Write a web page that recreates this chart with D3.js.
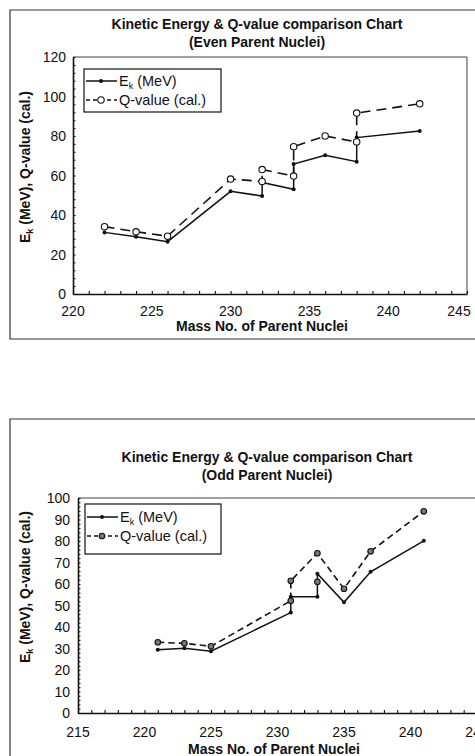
<!DOCTYPE html>
<html><head><meta charset="utf-8">
<script src="https://cdn.jsdelivr.net/npm/d3@7"></script>
<style>
body{margin:0;background:#fff}
svg{display:block}
text{font-family:"Liberation Sans",Arial,sans-serif;fill:#111}
</style>
</head><body>
<svg id="c" width="475" height="756"></svg>
<script>
// Even parent nuclei: mass number, kinetic energy (MeV), calculated Q-value
const evenMass = [222, 224, 226, 230, 232, 232, 234, 234, 236, 238, 238, 242];
const evenEk   = [31.2, 29.0, 26.5, 52.0, 49.6, 56.5, 53.0, 65.8, 70.2, 67.0, 79.2, 82.5];
const evenQ    = [34.1, 31.5, 29.3, 58.2, 57.0, 63.0, 59.7, 74.6, 80.0, 77.0, 91.6, 96.3];

// Odd parent nuclei
const oddMass  = [221, 223, 225, 231, 231, 233, 233, 235, 237, 241];
const oddEk    = [29.4, 30.1, 28.7, 46.7, 54.1, 54.1, 64.8, 51.5, 65.7, 80.1];
const oddQMass = [221, 223, 225, 231, 231, 233, 235, 237, 241];
const oddQ     = [32.9, 32.4, 31.0, 52.2, 61.5, 74.3, 57.8, 75.2, 93.8];
// unconnected Q-value point
const oddQLoneMass = [233];
const oddQLone     = [61.0];

const evenXTicks = [220, 225, 230, 235, 240, 245];
const evenYTicks = [0, 20, 40, 60, 80, 100, 120];
const oddXTicks  = [215, 220, 225, 230, 235, 240, 245];
const oddYTicks  = [0, 10, 20, 30, 40, 50, 60, 70, 80, 90, 100];

const titleLine1 = "Kinetic Energy & Q-value comparison Chart";
const evenTitle2 = "(Even Parent Nuclei)";
const oddTitle2  = "(Odd Parent Nuclei)";
const xTitle = "Mass No. of Parent Nuclei";
const legendEk = ["E", "k", " (MeV)"];
const legendQ = "Q-value (cal.)";

const svg = d3.select("#c");
const ink = "#111";

function zip(xs, ys) { return xs.map((x, i) => ({x, y: ys[i]})); }

function drawChart(o) {
  const g = svg.append("g");
  // outer frame
  g.append("path")
    .attr("d", o.framePath)
    .attr("fill", "none").attr("stroke", "#333").attr("stroke-width", 1.2);

  const x = d3.scaleLinear().domain(o.xDomain).range([o.left, o.right]);
  const y = d3.scaleLinear().domain(o.yDomain).range([o.bottom, o.top]);

  // plot area border (top/right)
  g.append("path")
    .attr("d", `M${o.left},${o.top}H${o.right}V${o.bottom}`)
    .attr("fill", "none").attr("stroke", "#444").attr("stroke-width", 1);

  // x axis: minor ticks pointing inward
  const xa = g.append("g").attr("transform", `translate(0,${o.bottom})`)
    .call(d3.axisBottom(x).tickValues(d3.range(o.xDomain[0], o.xDomain[1] + 1, 1))
      .tickSize(-3).tickSizeOuter(0).tickFormat(""));
  xa.select(".domain").attr("stroke", ink).attr("stroke-width", 1.6);
  xa.selectAll(".tick line").attr("stroke", ink).attr("stroke-width", 1.1);
  g.append("g").selectAll("text").data(o.xTicks).join("text")
    .attr("x", d => Math.min(x(d), o.xLabelMax)).attr("y", o.bottom + o.xLabelOff)
    .attr("text-anchor", "middle").attr("font-size", 14).text(d => d);

  // y axis
  const ya = g.append("g").attr("transform", `translate(${o.left},0)`)
    .call(d3.axisLeft(y).tickValues(d3.range(o.yDomain[0], o.yDomain[1] + 0.001, o.yMinor))
      .tickSize(-2.5).tickSizeOuter(0).tickFormat(""));
  ya.select(".domain").attr("stroke", ink).attr("stroke-width", 1.6);
  ya.selectAll(".tick line").attr("stroke", ink).attr("stroke-width", 1);
  g.append("g").selectAll("text").data(o.yTicks).join("text")
    .attr("x", o.left - o.yLabelGap).attr("y", d => y(d))
    .attr("dy", "0.36em").attr("text-anchor", "end").attr("font-size", 14).text(d => d);

  // titles
  g.append("text").attr("x", o.titleX).attr("y", o.titleY)
    .attr("text-anchor", "middle").attr("font-size", 14).attr("font-weight", "bold").text(titleLine1);
  g.append("text").attr("x", o.titleX).attr("y", o.titleY + 18)
    .attr("text-anchor", "middle").attr("font-size", 14).attr("font-weight", "bold").text(o.title2);
  g.append("text").attr("x", o.xTitleX).attr("y", o.xTitleY)
    .attr("text-anchor", "middle").attr("font-size", 14).attr("font-weight", "bold").text(xTitle);
  const yt = g.append("text")
    .attr("transform", `translate(${o.yTitleX},${o.yTitleY}) rotate(-90)`)
    .attr("text-anchor", "middle").attr("font-size", 14).attr("font-weight", "bold");
  yt.append("tspan").text("E");
  yt.append("tspan").attr("font-size", 9).attr("dy", 3).text("k");
  yt.append("tspan").attr("dy", -3).text(" (MeV), Q-value (cal.)");

  const line = d3.line().x(d => x(d.x)).y(d => y(d.y));
  const ek = zip(o.ekMass, o.ek);
  const q = zip(o.qMass, o.q);

  g.append("path").datum(q).attr("d", line)
    .attr("fill", "none").attr("stroke", ink).attr("stroke-width", 1.6)
    .attr("stroke-dasharray", o.dash);
  g.append("path").datum(ek).attr("d", line)
    .attr("fill", "none").attr("stroke", ink).attr("stroke-width", 1.5);

  g.append("g").selectAll("circle").data(ek).join("circle")
    .attr("cx", d => x(d.x)).attr("cy", d => y(d.y)).attr("r", 2).attr("fill", ink);
  const qAll = q.concat(o.qLone ? zip(o.qLoneMass, o.qLone) : []);
  g.append("g").selectAll("circle").data(qAll).join("circle")
    .attr("cx", d => x(d.x)).attr("cy", d => y(d.y)).attr("r", o.qR)
    .attr("fill", o.qFill).attr("stroke", ink).attr("stroke-width", 1.1);

  // legend
  const L = o.legend;
  g.append("rect").attr("x", L.x).attr("y", L.y).attr("width", L.w).attr("height", L.h)
    .attr("fill", "#fff").attr("stroke", ink).attr("stroke-width", 1.2);
  const sx0 = L.x + 2, sx1 = L.x + 33, mx = L.x + 17;
  g.append("line").attr("x1", sx0).attr("x2", sx1).attr("y1", L.r1).attr("y2", L.r1)
    .attr("stroke", ink).attr("stroke-width", 1.5);
  g.append("circle").attr("cx", mx).attr("cy", L.r1).attr("r", 2).attr("fill", ink);
  g.append("line").attr("x1", sx0).attr("x2", sx1).attr("y1", L.r2).attr("y2", L.r2)
    .attr("stroke", ink).attr("stroke-width", 1.5).attr("stroke-dasharray", "4,3");
  g.append("circle").attr("cx", mx).attr("cy", L.r2).attr("r", o.qR)
    .attr("fill", o.qFill).attr("stroke", ink).attr("stroke-width", 1.1);
  const t1 = g.append("text").attr("x", sx1 + 2).attr("y", L.r1).attr("dy", "0.36em").attr("font-size", 14.5);
  t1.append("tspan").text(legendEk[0]);
  t1.append("tspan").attr("font-size", 9).attr("dy", 3).text(legendEk[1]);
  t1.append("tspan").attr("dy", -3).text(legendEk[2]);
  g.append("text").attr("x", sx1 + 2).attr("y", L.r2).attr("dy", "0.36em").attr("font-size", 14.5).text(legendQ);
}

drawChart({
  framePath: "M480,10H10V339H480",
  xDomain: [220, 245], yDomain: [0, 120], yMinor: 4,
  left: 73, right: 467, top: 57, bottom: 294,
  xTicks: evenXTicks, yTicks: evenYTicks, xLabelOff: 22, xLabelMax: 459, yLabelGap: 7,
  titleX: 257, titleY: 29, title2: evenTitle2,
  xTitleX: 262, xTitleY: 331, yTitleX: 30, yTitleY: 167,
  ekMass: evenMass, ek: evenEk, qMass: evenMass, q: evenQ,
  dash: "10,6", qR: 3.2, qFill: "#fff",
  legend: {x: 84, y: 69, w: 137, h: 43, r1: 81, r2: 100}
});

drawChart({
  framePath: "M10,760V419H480",
  xDomain: [215, 245], yDomain: [0, 100], yMinor: 2,
  left: 78, right: 477, top: 498, bottom: 713,
  xTicks: oddXTicks, yTicks: oddYTicks, xLabelOff: 23.5, xLabelMax: 1000, yLabelGap: 8,
  titleX: 267, titleY: 461.5, title2: oddTitle2,
  xTitleX: 274, xTitleY: 753.5, yTitleX: 30, yTitleY: 587,
  ekMass: oddMass, ek: oddEk, qMass: oddQMass, q: oddQ,
  qLoneMass: oddQLoneMass, qLone: oddQLone,
  dash: "6.5,4", qR: 2.8, qFill: "#777",
  legend: {x: 85, y: 504, w: 136, h: 50, r1: 517, r2: 536}
});
</script>
</body></html>
